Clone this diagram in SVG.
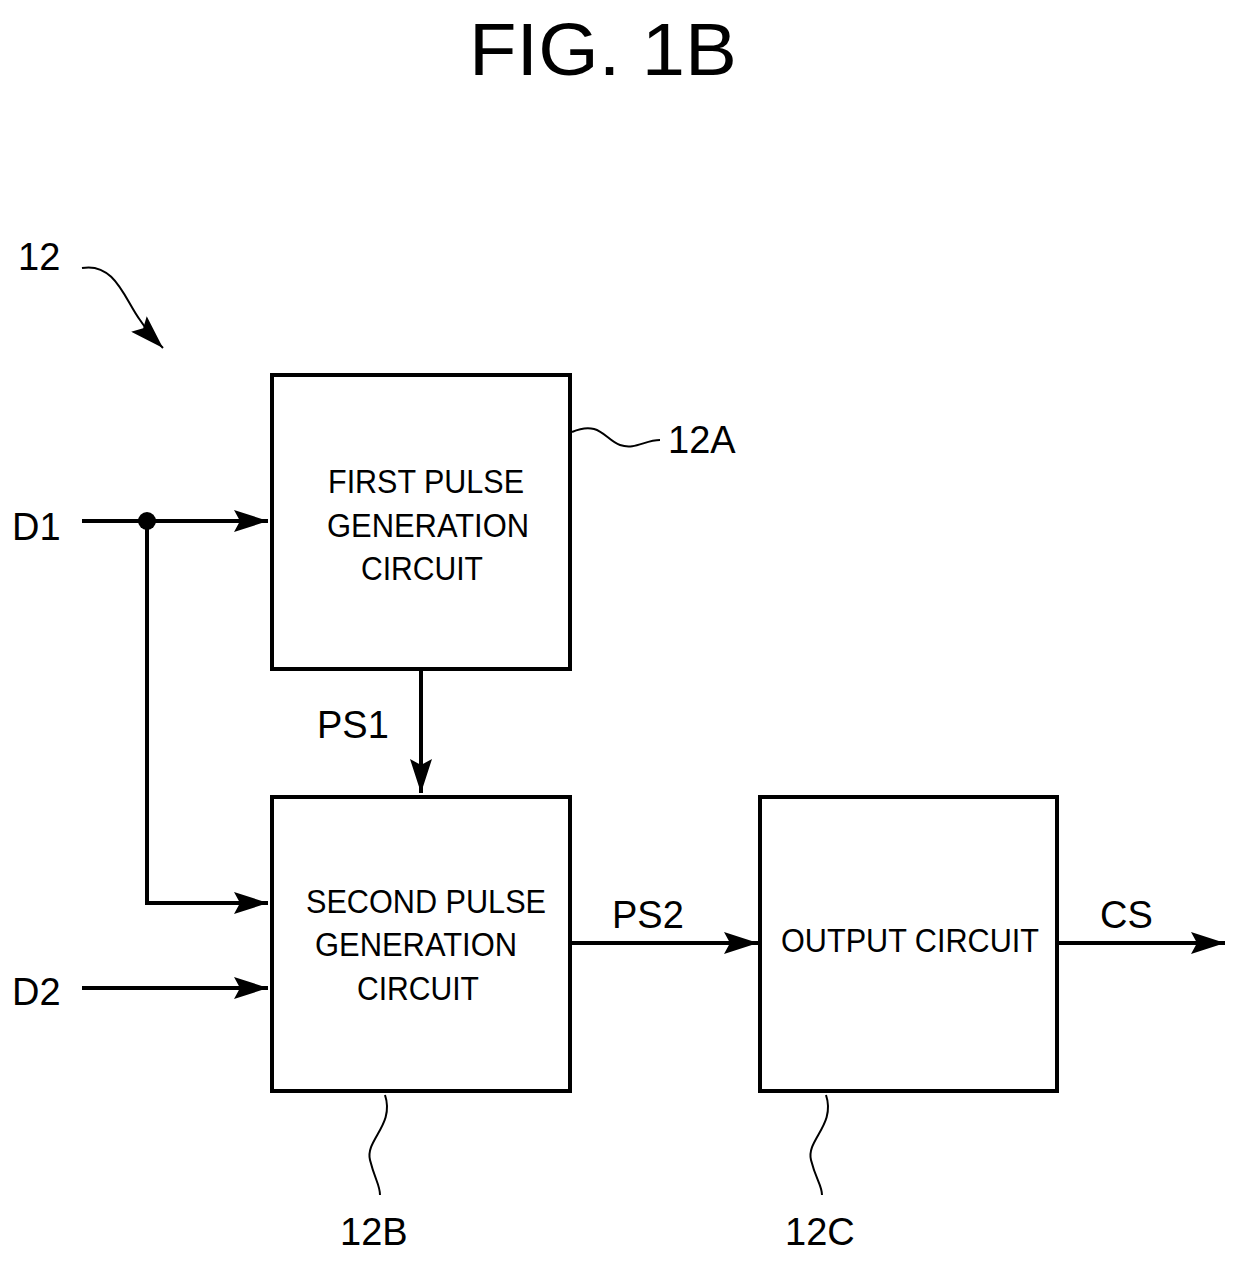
<svg xmlns="http://www.w3.org/2000/svg" width="1240" height="1261" viewBox="0 0 1240 1261">
<defs>
<marker id="ahb" markerWidth="34" markerHeight="22" refX="34" refY="11" orient="auto" markerUnits="userSpaceOnUse" viewBox="0 0 34 22"><path d="M0,0 L34,11 L0,22 L6,11 z" fill="#000"/></marker>
<style>
.box{fill:#fff;stroke:#000;stroke-width:4}
.w{fill:none;stroke:#000;stroke-width:4}
.s{fill:none;stroke:#000;stroke-width:2}
.t{font-family:"Liberation Sans",Arial,sans-serif;font-size:34px;text-anchor:middle}
.l{font-family:"Liberation Sans",Arial,sans-serif;font-size:38px}
</style>
</defs>
<text x="603" y="75" font-family="Liberation Sans,Arial,sans-serif" font-size="74" text-anchor="middle" textLength="268" lengthAdjust="spacingAndGlyphs">FIG. 1B</text>
<text class="l" x="18" y="270">12</text>
<path class="s" d="M82,268 C115,262 125,300 140,320 C148,332 155,340 163,348" marker-end="url(#ahb)"/>
<g id="connectors">
<path class="w" d="M82,521 H268" marker-end="url(#ahb)"/>
<circle cx="147" cy="521" r="9" fill="#000"/>
<path class="w" d="M147,521 V903 H268" marker-end="url(#ahb)"/>
<path class="w" d="M82,988 H268" marker-end="url(#ahb)"/>
<path class="w" d="M421,669 V793" marker-end="url(#ahb)"/>
<path class="w" d="M570,943 H758" marker-end="url(#ahb)"/>
<path class="w" d="M1057,943 H1225" marker-end="url(#ahb)"/>
<path class="s" d="M572,432 C600,420 605,440 620,445 C635,450 645,440 660,440"/>
<path class="s" d="M385,1095 C395,1125 365,1140 370,1160 C375,1180 380,1185 380,1195"/>
<path class="s" d="M826,1095 C836,1125 806,1140 811,1160 C816,1180 822,1185 822,1195"/>
</g>
<text class="l" x="12" y="540">D1</text>
<text class="l" x="12" y="1005">D2</text>
<text class="l" x="317" y="738">PS1</text>
<text class="l" x="612" y="928">PS2</text>
<text class="l" x="1100" y="928">CS</text>
<text class="l" x="668" y="453">12A</text>
<text class="l" x="340" y="1245">12B</text>
<text class="l" x="785" y="1245">12C</text>
<g id="n12A"><rect class="box" x="272" y="375" width="298" height="294"/>
<text class="t" x="426" y="493" textLength="196" lengthAdjust="spacingAndGlyphs">FIRST PULSE</text>
<text class="t" x="428" y="537" textLength="202" lengthAdjust="spacingAndGlyphs">GENERATION</text>
<text class="t" x="422" y="580" textLength="122" lengthAdjust="spacingAndGlyphs">CIRCUIT</text></g>
<g id="n12B"><rect class="box" x="272" y="797" width="298" height="294"/>
<text class="t" x="426" y="913" textLength="240" lengthAdjust="spacingAndGlyphs">SECOND PULSE</text>
<text class="t" x="416" y="956" textLength="202" lengthAdjust="spacingAndGlyphs">GENERATION</text>
<text class="t" x="418" y="1000" textLength="122" lengthAdjust="spacingAndGlyphs">CIRCUIT</text></g>
<g id="n12C"><rect class="box" x="760" y="797" width="297" height="294"/>
<text class="t" x="910" y="952" textLength="258" lengthAdjust="spacingAndGlyphs">OUTPUT CIRCUIT</text></g>
</svg>
